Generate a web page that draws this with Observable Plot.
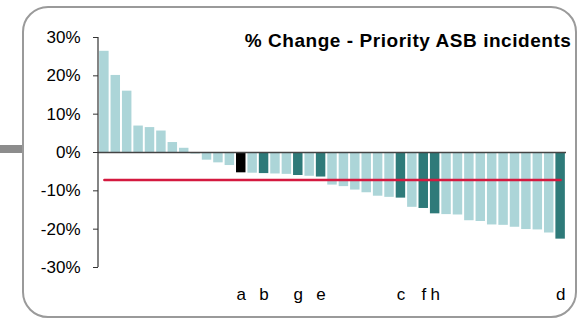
<!DOCTYPE html>
<html>
<head>
<meta charset="utf-8">
<script src="https://cdn.jsdelivr.net/npm/d3@7"></script>
<script src="https://cdn.jsdelivr.net/npm/@observablehq/plot@0.6"></script>
<style>
  html, body { margin: 0; padding: 0; background: #fff; }
  #wrap { position: relative; width: 578px; height: 320px; overflow: hidden; font-family: Arial, "Liberation Sans", sans-serif; }
  #tab { position: absolute; left: 0; top: 145px; width: 23px; height: 8px; background: #8c8c8c; }
  #frame { position: absolute; left: 22px; top: 6px; width: 551px; height: 308px; border: 2px solid #9a9a9a; border-radius: 26px; background: #fff; }
  #chart { position: absolute; left: 0; top: 0; }
</style>
</head>
<body>
<div id="wrap">
  <div id="tab"></div>
  <div id="frame"></div>
  <div id="chart"></div>
</div>
<script>
const title = "% Change - Priority ASB incidents";
const values = [26.4, 20.1, 16.0, 6.9, 6.5, 5.6, 2.6, 1.1, -0.4, -2.0, -2.7, -3.4,
  -5.3, -5.4, -5.5, -5.6, -5.7, -6.0, -6.2, -6.4, -8.5, -8.9, -9.8, -10.5, -11.4, -11.7,
  -11.9, -14.3, -14.6, -16.0, -16.2, -16.3, -17.8, -18.0, -18.9, -19.0, -19.5, -20.1,
  -20.2, -21.0, -22.6];
const labels = ["", "", "", "", "", "", "", "", "", "", "", "",
  "a", "", "b", "", "", "g", "", "e", "", "", "", "", "", "",
  "c", "", "f", "h", "", "", "", "", "", "", "", "", "", "", "d"];
const kinds = ["o", "o", "o", "o", "o", "o", "o", "o", "o", "o", "o", "o",
  "self", "o", "peer", "o", "o", "peer", "o", "peer", "o", "o", "o", "o", "o", "o",
  "peer", "o", "peer", "peer", "o", "o", "o", "o", "o", "o", "o", "o", "o", "o", "peer"];
const average = -7.2;
const yTicks = [-30, -20, -10, 0, 10, 20, 30];

const ids = values.map((_, i) => i + 1);
const data = values.map((v, i) => ({id: i + 1, value: v, kind: kinds[i], label: labels[i]}));
const avgLine = [{id: ids[0], v: average}, {id: ids[ids.length - 1], v: average}];
const fills = {o: "#acd5d8", peer: "#2e7a79", self: "#000000"};

const chart = Plot.plot({
  width: 578,
  height: 320,
  marginLeft: 98,
  marginRight: 12,
  marginTop: 37,
  marginBottom: 53,
  style: {fontFamily: "Arial, 'Liberation Sans', sans-serif", fontSize: "17px", background: "transparent", color: "#000", overflow: "visible"},
  x: {domain: ids, paddingInner: 0.17, paddingOuter: 0.1, round: false},
  y: {domain: [-30, 30]},
  marks: [
    Plot.barY(data, {x: "id", y: "value", fill: d => fills[d.kind]}),
    Plot.ruleY([0], {stroke: "#444", strokeWidth: 1.5}),
    Plot.line(avgLine, {x: "id", y: "v", stroke: "#d4193f", strokeWidth: 2.5}),
    Plot.axisY({ticks: yTicks, tickFormat: d => d + "%", tickSize: 5, tickPadding: 13, label: null, fontSize: 17, stroke: "#333"}),
    Plot.axisX({tickSize: 0, tickPadding: 20, tickFormat: id => labels[id - 1], label: null, fontSize: 17}),
    Plot.text([title], {frameAnchor: "top-right", text: d => d, dx: 5, dy: -4, fontWeight: "bold", fontSize: 19, textAnchor: "end", lineAnchor: "top"})
  ]
});
document.getElementById("chart").appendChild(chart);

const svg = d3.select(chart);
// title letter spacing
svg.selectAll("text").filter(function() { return this.textContent === title; })
  .attr("letter-spacing", "0.55px");
// y axis line along the left edge of the plot frame
svg.append("line")
  .attr("x1", 98).attr("x2", 98)
  .attr("y1", 37).attr("y2", 267)
  .attr("stroke", "#333").attr("stroke-width", 1.2);
</script>
</body>
</html>
